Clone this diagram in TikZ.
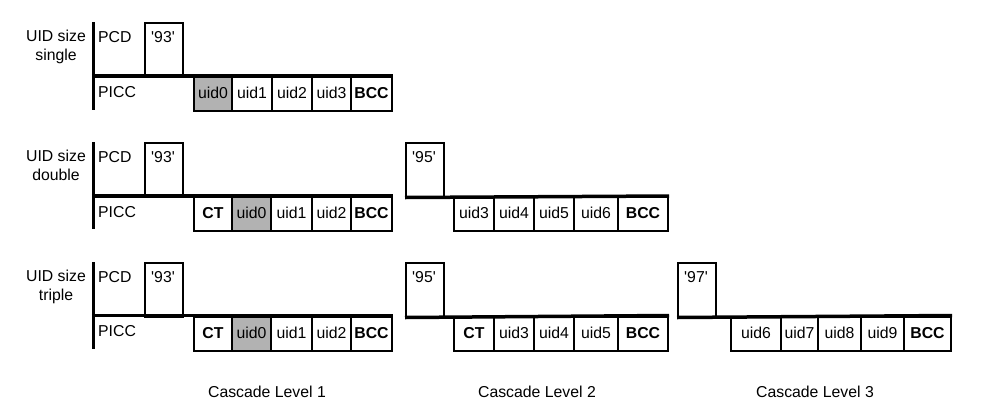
\documentclass[tikz,border=0pt]{standalone}
\usepackage{fontspec}
\setmainfont{Liberation Sans}[Ligatures=TeXOff]
\definecolor{cellgray}{RGB}{178,178,178}
\begin{document}
\begin{tikzpicture}[x=1pt,y=-1pt,
  every node/.style={font=\fontsize{15.8}{19}\selectfont, inner sep=0pt},
  cell/.style={draw, line width=2pt, minimum height=34, anchor=north west, text height=11.5, text depth=2},
  shaded/.style={cell, fill=cellgray},
  cmdbox/.style={draw, line width=2pt, minimum width=38, minimum height=53.5, anchor=north west},
  bar/.style={line width=3.5pt},
  lbl/.style={anchor=base west},
  ctr/.style={anchor=base},
  sidelbl/.style={align=center, anchor=north}]
\useasboundingbox (0,0) rectangle (993,408);

% ---------------- Row 1: single ----------------
\node[sidelbl] (s1) at (56,29.5) {UID size\\single};
\coordinate (v1t) at (93.5,22);
\coordinate (v1b) at (93.5,110);
\node[lbl] (pcd1) at (98,42) {PCD};
\node[lbl] (picc1) at (98,97) {PICC};
\node[cmdbox] (c93a) at (144,22) {};
\node[ctr] (t93a) at (163,42) {'93'};
\node[shaded, minimum width=38] (r1a) at (193,76) {uid0};
\node[cell, minimum width=40] (r1b) at (231,76) {uid1};
\node[cell, minimum width=40] (r1c) at (271,76) {uid2};
\node[cell, minimum width=39] (r1d) at (311,76) {uid3};
\node[cell, minimum width=41] (r1e) at (350,76) {\bfseries BCC};
\draw[bar] (v1t) -- (v1b);
\draw[bar] ([xshift=-1.75pt]v1t |- r1a.north) -- (r1e.north east);

% ---------------- Row 2: double ----------------
\node[sidelbl] (s2) at (56,149.5) {UID size\\double};
\coordinate (v2t) at (93.5,142);
\coordinate (v2b) at (93.5,229);
\node[lbl] (pcd2) at (98,162) {PCD};
\node[lbl] (picc2) at (98,217) {PICC};
\node[cmdbox] (c93b) at (144,142) {};
\node[ctr] (t93b) at (163,162) {'93'};
\node[cell, minimum width=38] (r2a) at (193,196) {\bfseries CT};
\node[shaded, minimum width=39] (r2b) at (231,196) {uid0};
\node[cell, minimum width=41] (r2c) at (270,196) {uid1};
\node[cell, minimum width=39] (r2d) at (311,196) {uid2};
\node[cell, minimum width=41] (r2e) at (350,196) {\bfseries BCC};
\draw[bar] (v2t) -- (v2b);
\draw[bar] ([xshift=-1.75pt]v2t |- r2a.north) -- (r2e.north east);

\node[cmdbox] (c95b) at (405,142) {};
\node[ctr] (t95b) at (424,162) {'95'};
\node[cell, minimum width=40] (r2f) at (453,196) {uid3};
\node[cell, minimum width=40] (r2g) at (493,196) {uid4};
\node[cell, minimum width=40] (r2h) at (533,196) {uid5};
\node[cell, minimum width=44] (r2i) at (573,196) {uid6};
\node[cell, minimum width=50] (r2j) at (617,196) {\bfseries BCC};
\draw[bar] (c95b.south west) -- (r2j.north east);

% ---------------- Row 3: triple ----------------
\node[sidelbl] (s3) at (56,269.5) {UID size\\triple};
\coordinate (v3t) at (93.5,262);
\coordinate (v3b) at (93.5,349);
\node[lbl] (pcd3) at (98,282) {PCD};
\node[lbl] (picc3) at (98,336) {PICC};
\node[cmdbox] (c93c) at (144,262) {};
\node[ctr] (t93c) at (163,282) {'93'};
\node[cell, minimum width=38] (r3a) at (193,315.5) {\bfseries CT};
\node[shaded, minimum width=39] (r3b) at (231,315.5) {uid0};
\node[cell, minimum width=41] (r3c) at (270,315.5) {uid1};
\node[cell, minimum width=39] (r3d) at (311,315.5) {uid2};
\node[cell, minimum width=41] (r3e) at (350,315.5) {\bfseries BCC};
\draw[bar] (v3t) -- (v3b);
\draw[bar] ([xshift=-1.75pt]v3t |- r3a.north) -- (r3e.north east);

\node[cmdbox] (c95c) at (405,262) {};
\node[ctr] (t95c) at (424,282) {'95'};
\node[cell, minimum width=40] (r3f) at (453,315.5) {\bfseries CT};
\node[cell, minimum width=40] (r3g) at (493,315.5) {uid3};
\node[cell, minimum width=40] (r3h) at (533,315.5) {uid4};
\node[cell, minimum width=44] (r3i) at (573,315.5) {uid5};
\node[cell, minimum width=50] (r3j) at (617,315.5) {\bfseries BCC};
\draw[bar] (c95c.south west) -- (r3j.north east);

\node[cmdbox] (c97c) at (677,262) {};
\node[ctr] (t97c) at (696,282) {'97'};
\node[cell, minimum width=50] (r3k) at (730,315.5) {uid6};
\node[cell, minimum width=37] (r3l) at (780,315.5) {uid7};
\node[cell, minimum width=43] (r3m) at (817,315.5) {uid8};
\node[cell, minimum width=43] (r3n) at (860,315.5) {uid9};
\node[cell, minimum width=47] (r3o) at (903,315.5) {\bfseries BCC};
\draw[bar] (c97c.south west) -- (r3o.north east);

% ---------------- Cascade level captions ----------------
\node[ctr] (cl1) at (267,397) {Cascade Level 1};
\node[ctr] (cl2) at (537,397) {Cascade Level 2};
\node[ctr] (cl3) at (815,397) {Cascade Level 3};
\end{tikzpicture}
\end{document}
